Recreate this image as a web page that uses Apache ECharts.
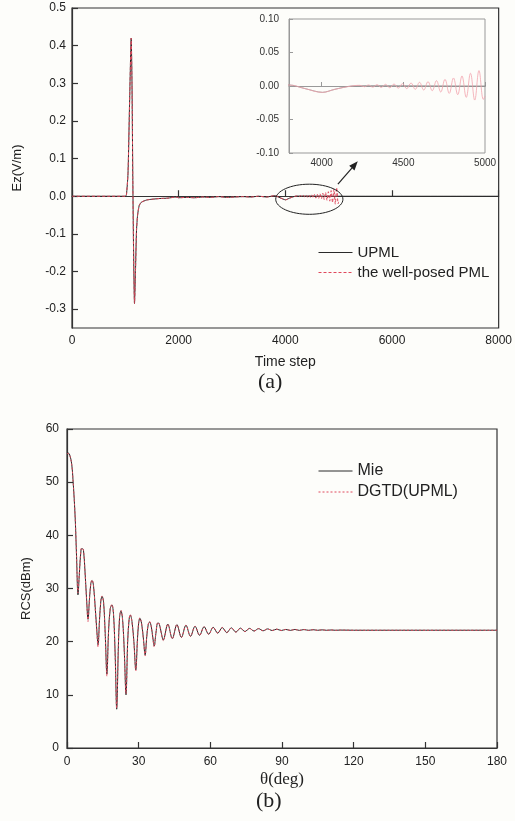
<!DOCTYPE html>
<html><head><meta charset="utf-8">
<script src="https://cdn.jsdelivr.net/npm/echarts@6/dist/echarts.min.js"></script>
<style>html,body{margin:0;padding:0;background:#fdfdfa}#c{width:515px;height:821px}</style>
</head><body><div id="c"></div>
<script>
// ---------- Panel (a): Ez vs time step ----------
const upmlT = [0,1000,1020,1050,1080,1110,1125,1140,1155,1172,1190,1210,1230,1260,1300,1400,1500,1650,1800,1950,2000,2150,2300,2450,2600,2750,2900,3050,3200,3350,3500,3650,3800,3900,4005,4080,4185,4300,5000,8000];
const upmlEz = [0,0,0.003,0.06,0.25,0.42,0.3,0.05,-0.15,-0.285,-0.2,-0.09,-0.05,-0.025,-0.016,-0.01,-0.008,-0.006,-0.005,-0.002,-0.004,-0.003,-0.004,-0.002,-0.003,-0.001,-0.003,-0.002,-0.001,-0.002,0,-0.002,0.0015,-0.004,-0.0095,-0.005,0,0.0005,0,0];
const wellT = [0,1000,1020,1050,1080,1110,1125,1140,1155,1172,1190,1210,1230,1260,1300,1400,1500,1650,1800,1950,2000,2150,2300,2450,2600,2750,2900,3050,3200,3350,3500,3650,3800,3900,4005,4080,4185,4235,4261,4287,4313,4339,4365,4391,4417,4443,4469,4495,4521,4547,4573,4599,4625,4651,4677,4703,4729,4755,4781,4807,4833,4859,4885,4911,4937,4963,4990,5000];
const wellEz = [0,0,0.003,0.06,0.25,0.42,0.3,0.05,-0.15,-0.285,-0.2,-0.09,-0.05,-0.025,-0.016,-0.01,-0.008,-0.006,-0.005,-0.002,-0.004,-0.003,-0.004,-0.002,-0.003,-0.001,-0.003,-0.002,-0.001,-0.002,0,-0.002,0.0015,-0.004,-0.0095,-0.005,0,0.001,-0.0012,0.0015,-0.0017,0.002,-0.0022,0.0025,-0.0027,0.003,-0.0032,0.0035,-0.004,0.0045,-0.005,0.0055,-0.006,0.0065,-0.007,0.008,-0.009,0.01,-0.011,0.012,-0.013,0.015,-0.017,0.019,-0.021,0.023,-0.02,-0.015];
const aXTicks = [0,2000,4000,6000,8000];
const aYTicks = [-0.3,-0.2,-0.1,0,0.1,0.2,0.3,0.4,0.5];
const insetXTicks = [4000,4500,5000];
const insetYTicks = [-0.1,-0.05,0,0.05,0.1];

// ---------- Panel (b): RCS vs theta ----------
const thetaDeg = [0,1,2,2.5,3,3.5,4,4.6,5.2,5.9,6.4,6.9,7.5,8.2,8.8,9.4,10,10.5,11.1,11.8,12.5,13,13.6,14.2,14.7,15.3,16,16.7,17.4,18.1,18.8,19.5,20.2,20.8,21.5,22,22.6,23.3,24,24.7,25.4,26,26.5,27.2,28,28.8,29.5,30,30.5,31.2,32,32.7,33.4,34,34.6,35.3,36,36.5,37.2,38,38.6,39.4,40.3,42.2,44.1,46,47.9,49.8,51.7,53.6,55.5,57.4,59.3,61.2,63.1,65,66.9,68.8,70.7,72.6,74.5,76.4,78.3,80.2,82.1,84,85.9,87.8,89.7,91.6,93.5,95.4,97.3,99.2,101.1,103,104.9,106.8,108.7,110.6,112.5,114.4,120,130,150,180];
const mieRCS = [55.6,55.3,53.3,50.5,47,42.5,36,28.8,33,37.4,37.5,37.2,33.5,28,24.2,28,31,31.5,30.5,26.5,22,19.4,24,27.8,28.5,27.5,21.5,13.9,22,26.2,26.9,25,17,7.3,19,24.5,25.8,24,18,10,20,24.2,25,23.8,20,14.7,20.5,23.5,24.4,23.5,20.5,17.5,21,23.2,23.7,22.8,20.5,19.2,21.5,23.5,23.4,21.8,20.3,23.3,20.6,23.2,20.8,23.1,21,22.9,21.2,22.8,21.4,22.7,21.6,22.65,21.7,22.6,21.8,22.55,21.9,22.5,22,22.45,22.05,22.4,22.1,22.35,22.1,22.3,22.12,22.3,22.12,22.28,22.13,22.25,22.14,22.22,22.14,22.2,22.14,22.18,22.15,22.15,22.15,22.15];
const dgtdRCS = [55.4,55.2,53.2,50.4,47,42.6,36.2,29.2,33.2,37.5,37.6,37.2,33.4,27.8,23.8,28,31.1,31.6,30.4,26.3,21.7,19.0,24,27.9,28.6,27.4,21.2,13.5,22,26.3,27,24.9,16.6,7.5,19.2,24.6,25.9,23.9,17.8,10.2,20.1,24.3,25.1,23.7,19.8,14.5,20.6,23.6,24.5,23.4,20.4,17.3,21.1,23.3,23.8,22.7,20.4,19.0,21.6,23.6,23.4,21.7,20.2,23.3,20.5,23.2,20.8,23.1,21,22.9,21.2,22.8,21.4,22.7,21.6,22.65,21.7,22.6,21.8,22.55,21.9,22.5,22,22.45,22.05,22.4,22.1,22.35,22.1,22.3,22.12,22.3,22.12,22.28,22.13,22.25,22.14,22.22,22.14,22.2,22.14,22.18,22.15,22.15,22.15,22.15];

const zip = (a, b) => a.map((v, i) => [v, b[i]]);
const SANS = '"Liberation Sans", Arial, sans-serif';
const SERIF = '"Liberation Serif", "Times New Roman", serif';
const TXT = '#222';
const BLACK = '#2a2a2a';
const RED = '#e0485c';

const chart = echarts.init(document.getElementById('c'), null, {renderer: 'canvas'});

function mainAxisX(gi, min, max, ticks, name, nameGap, nameFont, margin) {
  return {
    type: 'value', gridIndex: gi, min, max, name, nameLocation: 'middle', nameGap,
    nameTextStyle: nameFont,
    axisLine: {show: true, lineStyle: {color: '#333', width: 1.2}},
    axisTick: {show: true, inside: true, length: 6, customValues: ticks, lineStyle: {color: '#333', width: 1.2}},
    axisLabel: {customValues: ticks, margin, color: TXT, fontSize: 12, fontFamily: SANS, formatter: v => String(v)},
    splitLine: {show: false}
  };
}
function mainAxisY(gi, min, max, ticks, name, nameGap, fmt, margin) {
  return {
    type: 'value', gridIndex: gi, min, max, name, nameLocation: 'middle', nameGap,
    nameTextStyle: {fontSize: 13, color: TXT, fontFamily: SANS},
    axisLine: {show: true, lineStyle: {color: '#333', width: 1.2}},
    axisTick: {show: true, inside: true, length: 6, customValues: ticks, lineStyle: {color: '#333', width: 1.2}},
    axisLabel: {customValues: ticks, margin, color: TXT, fontSize: 12, fontFamily: SANS, formatter: fmt},
    splitLine: {show: false}
  };
}

const option = {
  backgroundColor: '#fdfdfa',
  animation: false,
  title: [
    {text: '(a)', left: 258, top: 371, textStyle: {fontFamily: SERIF, fontSize: 22, fontWeight: 'normal', color: TXT}, padding: 0},
    {text: '(b)', left: 256, top: 790, textStyle: {fontFamily: SERIF, fontSize: 22, fontWeight: 'normal', color: TXT}, padding: 0}
  ],
  legend: [
    {data: ['UPML', 'the well-posed PML'], orient: 'vertical', left: 318, top: 245, itemWidth: 34, itemHeight: 14, itemGap: 5, padding: 0,
      itemStyle: {opacity: 0}, lineStyle: {width: 1}, textStyle: {fontSize: 15, color: TXT, fontFamily: SANS}},
    {data: ['Mie', 'DGTD(UPML)'], orient: 'vertical', left: 318, top: 463, itemWidth: 34, itemHeight: 14, itemGap: 5, padding: 0,
      itemStyle: {opacity: 0}, lineStyle: {width: 1}, textStyle: {fontSize: 16, color: TXT, fontFamily: SANS}}
  ],
  grid: [
    {left: 72, top: 8, width: 430, height: 320, show: true, borderColor: '#333', borderWidth: 1.2, backgroundColor: 'transparent'},
    {left: 289, top: 19, width: 196, height: 134, show: true, borderColor: '#999', borderWidth: 1, backgroundColor: '#fdfdfa'},
    {left: 67, top: 429, width: 430, height: 319, show: true, borderColor: '#333', borderWidth: 1.2, backgroundColor: 'transparent'}
  ],
  xAxis: [
    mainAxisX(0, 0, 8000, aXTicks, 'Time step', 27, {fontSize: 14, color: TXT, fontFamily: SANS}, 7),
    {
      type: 'value', gridIndex: 1, min: 3800, max: 5000,
      axisLine: {show: true, lineStyle: {color: '#999', width: 1}},
      axisTick: {show: true, inside: true, length: 4, customValues: insetXTicks, lineStyle: {color: '#999'}},
      axisLabel: {customValues: insetXTicks, margin: 5, color: '#333', fontSize: 10, fontFamily: SANS, formatter: v => String(v)},
      splitLine: {show: false}
    },
    mainAxisX(2, 0, 180, [0,30,60,90,120,150,180], 'θ(deg)', 23, {fontSize: 17, color: TXT, fontFamily: SERIF}, 8)
  ],
  yAxis: [
    mainAxisY(0, -0.35, 0.5, aYTicks, 'Ez(V/m)', 48, v => v.toFixed(1), 6),
    {
      type: 'value', gridIndex: 1, min: -0.1, max: 0.1,
      axisLine: {show: true, lineStyle: {color: '#999', width: 1}},
      axisTick: {show: true, inside: true, length: 4, customValues: insetYTicks, lineStyle: {color: '#999'}},
      axisLabel: {customValues: insetYTicks, margin: 10, color: '#333', fontSize: 10, fontFamily: SANS, formatter: v => v.toFixed(2)},
      splitLine: {show: false}
    },
    mainAxisY(2, 0, 60, [0,10,20,30,40,50,60], 'RCS(dBm)', 34, v => String(v), 8)
  ],
  series: [
    {name: 'UPML', type: 'line', xAxisIndex: 0, yAxisIndex: 0, data: zip(upmlT, upmlEz), symbol: 'none', smooth: 0.2,
      lineStyle: {color: BLACK, width: 1}, itemStyle: {color: BLACK}, z: 2},
    {name: 'the well-posed PML', type: 'line', xAxisIndex: 0, yAxisIndex: 0, data: zip(wellT, wellEz), symbol: 'none', smooth: 0.2,
      lineStyle: {color: RED, width: 1, type: [3, 2]}, itemStyle: {color: RED}, z: 3},
    {name: 'UPML', type: 'line', xAxisIndex: 1, yAxisIndex: 1, data: zip(upmlT, upmlEz), symbol: 'none', smooth: 0.3,
      lineStyle: {color: '#888', width: 0.8}, z: 4},
    {name: 'the well-posed PML', type: 'line', xAxisIndex: 1, yAxisIndex: 1, data: zip(wellT, wellEz), symbol: 'none', smooth: 0.4,
      lineStyle: {color: '#f2a3ad', width: 0.8}, z: 5},
    {name: 'Mie', type: 'line', xAxisIndex: 2, yAxisIndex: 2, data: zip(thetaDeg, mieRCS), symbol: 'none', smooth: 0.35,
      lineStyle: {color: BLACK, width: 1}, itemStyle: {color: BLACK}, z: 2},
    {name: 'DGTD(UPML)', type: 'line', xAxisIndex: 2, yAxisIndex: 2, data: zip(thetaDeg, dgtdRCS), symbol: 'none', smooth: 0.35,
      lineStyle: {color: RED, width: 1, type: [2, 2]}, itemStyle: {color: RED}, z: 3}
  ]
};
chart.setOption(option);

// Ellipse and arrow annotation (positioned from data coordinates)
const c = chart.convertToPixel({gridIndex: 0}, [4450, -0.008]);
const e = chart.convertToPixel({gridIndex: 0}, [5080, 0.032]);
const rx = e[0] - c[0], ry = e[1] - c[1];
const a0 = chart.convertToPixel({gridIndex: 0}, [4986, 0.032]);
const a1 = chart.convertToPixel({gridIndex: 0}, [5358, 0.0926]);
const ang = Math.atan2(a1[1] - a0[1], a1[0] - a0[0]);
const hl = 9, hw = 3.5;
const bx = a1[0] - hl * Math.cos(ang), by = a1[1] - hl * Math.sin(ang);
const px = -Math.sin(ang), py = Math.cos(ang);
chart.setOption({
  graphic: [
    {type: 'ellipse', shape: {cx: c[0], cy: c[1], rx: Math.abs(rx), ry: Math.abs(ry)}, style: {fill: 'none', stroke: '#222', lineWidth: 1}, z: 10},
    {type: 'line', shape: {x1: a0[0], y1: a0[1], x2: bx, y2: by}, style: {stroke: '#222', lineWidth: 1.2}, z: 10},
    {type: 'polygon', shape: {points: [[a1[0], a1[1]], [bx + px * hw, by + py * hw], [bx - px * hw, by - py * hw]]}, style: {fill: '#222'}, z: 10}
  ]
});
</script>
</body></html>
